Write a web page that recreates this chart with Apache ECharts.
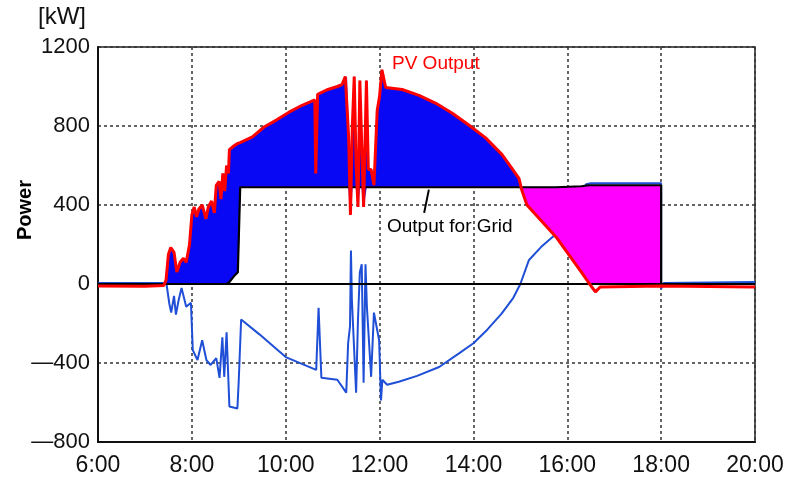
<!DOCTYPE html>
<html>
<head>
<meta charset="utf-8">
<script src="https://cdn.jsdelivr.net/npm/echarts@6/dist/echarts.min.js"></script>
<style>
  html, body { margin: 0; padding: 0; background: #fff; }
  #chart { width: 796px; height: 481px; }
</style>
</head>
<body>
<div id="chart"></div>
<script>
// time of day in hours, shared by the PV and grid series
const pvHours = [
  6.00, 7.00, 7.40, 7.45, 7.50, 7.55, 7.62, 7.68, 7.75, 7.82, 7.88, 7.95,
  8.00, 8.05, 8.10, 8.15, 8.22, 8.30, 8.35, 8.42, 8.48, 8.52, 8.58, 8.62,
  8.66, 8.70, 8.74, 8.78, 8.80, 8.90, 8.98, 9.03, 9.29, 9.54, 9.80, 10.07,
  10.35, 10.62, 10.64, 10.68, 10.90, 11.10, 11.20, 11.27, 11.30, 11.34, 11.38, 11.42,
  11.46, 11.50, 11.54, 11.58, 11.62, 11.66, 11.72, 11.76, 11.82, 11.88, 11.95, 12.00,
  12.05, 12.13, 12.48, 12.84, 13.20, 13.55, 13.90, 14.26, 14.61, 14.82, 14.97, 15.03,
  15.14, 15.76, 16.30, 16.46, 16.60, 16.70, 18.00, 18.00, 20.00
];
const pvOutput = [
  -10, -12, -8, 20, 150, 185, 160, 60, 110, 130, 110, 200,
  350, 390, 340, 380, 400, 330, 390, 420, 360, 500, 520, 430,
  560, 470, 600, 560, 680, 700, 712, 716, 745, 795, 830, 870,
  905, 932, 560, 960, 985, 1000, 1010, 1050, 1045, 750, 350, 800,
  1050, 600, 390, 1030, 700, 390, 1030, 580, 580, 500, 880, 950,
  1085, 995, 985, 955, 915, 865, 805, 740, 655, 585, 535, 476,
  400, 238, 60, 5, -40, -15, -10, -10, -15
];
const gridOutput = [
  0, 0, 0, 0, 0, 0, 0, 0, 0, 0, 0, 0,
  0, 0, 0, 0, 0, 0, 0, 0, 0, 0, 0, 0,
  0, 0, 0, 0, 10, 40, 60, 490, 490, 490, 490, 490,
  490, 490, 490, 490, 490, 490, 490, 490, 490, 490, 490, 490,
  490, 490, 490, 490, 490, 490, 490, 490, 490, 490, 490, 490,
  490, 490, 490, 490, 490, 490, 490, 490, 490, 490, 490, 490,
  490, 490, 495, 500, 500, 500, 500, 0, 0
];
// battery power (negative = charging)
const chargeHours = [
  6.00, 7.40, 7.46, 7.52, 7.56, 7.62, 7.66, 7.72, 7.78, 7.88, 7.98, 8.02,
  8.12, 8.22, 8.31, 8.40, 8.52, 8.59, 8.65, 8.69, 8.74, 8.80, 8.97, 9.00,
  9.05, 9.44, 10.00, 10.65, 10.70, 10.76, 11.10, 11.29, 11.33, 11.37, 11.39, 11.41,
  11.50, 11.54, 11.58, 11.62, 11.66, 11.70, 11.73, 11.82, 11.88, 11.99, 12.03, 12.06,
  12.16, 12.41, 12.80, 13.27, 13.70, 14.00, 14.30, 14.60, 14.85, 15.00, 15.18, 15.44,
  15.71, 16.10, 16.30, 16.40, 16.50, 18.00, 18.00, 18.05, 20.00
];
const chargeOutput = [
  5, 5, 0, -100, -145, -60, -155, -80, -20, -115, -95, -335,
  -385, -285, -385, -410, -375, -475, -270, -470, -245, -620, -630, -485,
  -180, -255, -370, -435, -120, -475, -485, -550, -300, -215, 170, -80,
  -550, -180, 60, 100, -500, 100, -115, -470, -145, -285, -590, -485,
  -510, -495, -465, -420, -350, -300, -230, -150, -70, 0, 120, 187,
  243, 380, 470, 505, 510, 510, -25, 5, 10
];
const timeTicks = [6, 8, 10, 12, 14, 16, 18, 20];
const dischargeFrom = 15; // afternoon: battery tops up the grid output

// bands: [hour, lower, upper]
const blueBand = pvHours.map((h, i) =>
  [h, Math.min(pvOutput[i], gridOutput[i]), pvOutput[i]]);
const pinkBand = pvHours.map((h, i) => {
  const on = h >= dischargeFrom && pvOutput[i] < gridOutput[i];
  return on ? [h, Math.max(pvOutput[i], 0), gridOutput[i]] : [h, gridOutput[i], gridOutput[i]];
});

function bandSeries(band, color) {
  return {
    type: 'custom', silent: true, z: 3, clip: true,
    data: band,
    renderItem: (params, api) => {
      if (params.dataIndex !== 0) return null;
      const top = band.map(d => api.coord([d[0], d[2]]));
      const bottom = band.map(d => api.coord([d[0], d[1]])).reverse();
      return {
        type: 'polygon',
        shape: { points: top.concat(bottom) },
        style: { fill: color, stroke: color, lineWidth: 0.5 }
      };
    }
  };
}

const font = '"Liberation Sans", Arial, sans-serif';
const chart = echarts.init(document.getElementById('chart'));

chart.setOption({
  animation: false,
  backgroundColor: '#fff',
  grid: {
    left: 98, right: 41, top: 47, bottom: 39,
    show: true, borderColor: '#222', borderWidth: 1.5
  },
  xAxis: {
    type: 'value',
    min: 6, max: 20, interval: 2,
    axisLine: { onZero: false, lineStyle: { color: '#111', width: 2 } },
    axisTick: { show: false },
    axisLabel: {
      color: '#111', fontFamily: font, fontSize: 23, margin: 12,
      formatter: v => (timeTicks.includes(v) ? v + ':00' : '')
    },
    splitLine: { lineStyle: { color: '#333', type: [3, 3], width: 1.5 } }
  },
  yAxis: {
    type: 'value',
    min: -800, max: 1200, interval: 400,
    axisLine: { show: true, lineStyle: { color: '#111', width: 2 } },
    axisTick: { show: false },
    axisLabel: {
      color: '#111', fontFamily: font, fontSize: 22, margin: 8,
      formatter: v => (v < 0 ? '\u2014' + Math.abs(v) : String(v))
    },
    splitLine: { lineStyle: { color: '#333', type: [3, 3], width: 1.5 } }
  },
  graphic: [
    { type: 'text', left: 38, top: 5, style: { text: '[kW]', fontSize: 24, fontFamily: font, fill: '#111' } },
    {
      type: 'text', x: 15, y: 240, rotation: Math.PI / 2,
      style: { text: 'Power', fontSize: 20, fontWeight: 'bold', fontFamily: font, fill: '#000' }
    },
    { type: 'text', left: 392, top: 54, style: { text: 'PV Output', fontSize: 19, fontFamily: font, fill: '#f00' } },
    { type: 'text', left: 387, top: 217, style: { text: 'Output for Grid', fontSize: 19, fontFamily: font, fill: '#000' } }
  ],
  series: [
    {
      name: 'Battery', type: 'line',
      data: chargeHours.map((h, i) => [h, chargeOutput[i]]),
      showSymbol: false, lineStyle: { color: '#1f4fd6', width: 2 }, z: 2
    },
    bandSeries(blueBand, '#0808f5'),
    bandSeries(pinkBand, '#ff00ff'),
    {
      name: 'Output for Grid', type: 'line',
      data: pvHours.map((h, i) => [h, gridOutput[i]]),
      showSymbol: false, lineStyle: { color: '#000', width: 2.2 }, z: 4,
      markLine: {
        silent: true, symbol: 'none', label: { show: false },
        lineStyle: { color: '#000', width: 2, type: 'solid' },
        data: [
          { yAxis: 0 },
          [{ coord: [12.95, 360] }, { coord: [13.05, 478] }]
        ]
      }
    },
    {
      name: 'PV Output', type: 'line',
      data: pvHours.map((h, i) => [h, pvOutput[i]]),
      showSymbol: false, lineStyle: { color: '#f00', width: 3 }, z: 5
    }
  ]
});
</script>
</body>
</html>
